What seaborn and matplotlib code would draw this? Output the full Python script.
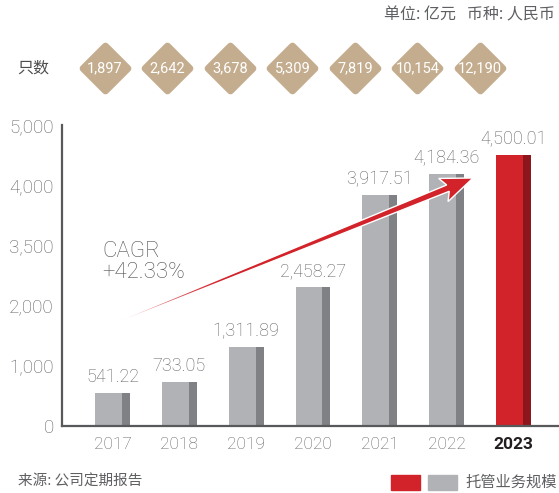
import numpy as np
import pandas as pd
import matplotlib
matplotlib.use("Agg")
import matplotlib.pyplot as plt
import seaborn as sns
from matplotlib.patches import Polygon, Rectangle
from matplotlib.scale import FuncScale

# ---------------- data ----------------
years = ["2017", "2018", "2019", "2020", "2021", "2022", "2023"]
custody_scale = [541.22, 733.05, 1311.89, 2458.27, 3917.51, 4184.36, 4500.01]
fund_counts = [1897, 2642, 3678, 5309, 7819, 10154, 12190]
y_ticks = [0, 1000, 2000, 3500, 4000, 5000]
cagr_text = "CAGR\n+42.33%"
unit_text = "单位: 亿元   币种: 人民币"
count_label = "只数"
source_text = "来源: 公司定期报告"
legend_text = "托管业务规模"

# ---------------- style ----------------
sns.set_theme(style="white")
plt.rcParams["font.family"] = ["Roboto", "Noto Sans CJK SC", "DejaVu Sans"]
plt.rcParams["font.weight"] = "light"
CJK = ["Noto Sans CJK SC", "DejaVu Sans"]

GRAY_TXT = "#5f6063"
LIGHT = "#b1b2b6"
DARK = "#808185"
RED = "#d2232a"
RED_DARK = "#8c161c"
TAN = "#c4ad8e"

W, H = 559, 493
fig = plt.figure(figsize=(W / 100, H / 100), dpi=100)


def fx(px):
    return px / W


def fy(py):
    return 1 - py / H


# ---------------- main bar axes ----------------
ax = fig.add_axes([fx(62), fy(426), fx(559) - fx(62), fy(125) - fy(426)])

df = pd.DataFrame({"year": years, "value": custody_scale})
dark_cols = [DARK] * (len(years) - 1) + [RED_DARK]
light_cols = [LIGHT] * (len(years) - 1) + [RED]

sns.barplot(data=df, x="year", y="value", hue="year", palette=dark_cols,
            width=0.52, saturation=1, legend=False, ax=ax, linewidth=0)
pos = np.arange(len(years))
ax.bar(pos - 0.26, custody_scale, width=0.52 * 27 / 35, align="edge",
       color=light_cols, linewidth=0, zorder=3)

fwd = lambda v: np.interp(v, y_ticks, np.arange(len(y_ticks)))
inv = lambda u: np.interp(u, np.arange(len(y_ticks)), y_ticks)
ax.set_yscale(FuncScale(ax.yaxis, (fwd, inv)))
ax.set_ylim(0, 5000)
ax.set_xlim(-0.756, 6.68)
ax.set_yticks(y_ticks)
ax.set_yticklabels([f"{t:,}" for t in y_ticks])
ax.set_xticks(pos)
ax.set_xticklabels(years)
ax.set_xlabel("")
ax.set_ylabel("")
ax.tick_params(axis="y", length=0, pad=6, labelsize=13.5, labelcolor=GRAY_TXT)
ax.tick_params(axis="x", length=0, pad=8, labelsize=12.5, labelcolor=GRAY_TXT)
last = ax.get_xticklabels()[-1]
last.set_fontweight("bold")
last.set_color("#231f20")

for s in ["top", "right"]:
    ax.spines[s].set_visible(False)
for s in ["left", "bottom"]:
    ax.spines[s].set_color("#58595b")
    ax.spines[s].set_linewidth(1.6)
ax.spines["left"].set_zorder(5)
ax.spines["bottom"].set_zorder(5)

for i, v in enumerate(custody_scale):
    ax.annotate(f"{v:,.2f}", (i, v), xytext=(0, 5), textcoords="offset points",
                ha="center", va="bottom", fontsize=13, color=GRAY_TXT)

# ---------------- diamonds (fund counts) ----------------
axd = fig.add_axes([0, fy(100), 1, fy(36) - fy(100)])
axd.set_axis_off()
axd.set_xlim(-1.68, 7.264)
axd.set_ylim(-1, 1)
dpos = np.arange(len(fund_counts))
sc = axd.scatter(dpos, np.zeros(len(dpos)), marker="D", s=520, color=TAN,
                 edgecolors=TAN, linewidths=5)
sc.set_joinstyle("round")
for i, c in enumerate(fund_counts):
    axd.text(i, 0, f"{c:,}", ha="center", va="center", color="white",
             fontsize=10.5, fontweight="normal")

# ---------------- texts ----------------
fig.text(fx(555), fy(15), unit_text, ha="right", va="center", fontsize=11.5,
         color=GRAY_TXT, family=CJK)
fig.text(fx(17), fy(68), count_label, ha="left", va="center", fontsize=11.5,
         color="#4d4d4f", family=CJK)
fig.text(fx(18), fy(482), source_text, ha="left", va="center", fontsize=10.5,
         color=GRAY_TXT, family=CJK)
fig.text(fx(102), fy(262), cagr_text, ha="left", va="center", fontsize=16,
         color="#4d4d4f", linespacing=0.95)

# legend
fig.patches.append(Rectangle((fx(391), fy(490)), fx(29), fy(475) - fy(490),
                             transform=fig.transFigure, color=RED, figure=fig))
fig.patches.append(Rectangle((fx(428), fy(490)), fx(29), fy(475) - fy(490),
                             transform=fig.transFigure, color=LIGHT, figure=fig))
fig.text(fx(465), fy(482), legend_text, ha="left", va="center", fontsize=11,
         color=GRAY_TXT, family=CJK)

# ---------------- CAGR arrow (pixel overlay) ----------------
axo = fig.add_axes([0, 0, 1, 1])
axo.set_axis_off()
axo.set_xlim(0, W)
axo.set_ylim(H, 0)
S = np.array([115.0, 323.0])
T = np.array([473.0, 178.0])
L = np.linalg.norm(T - S)
u = (T - S) / L
n = np.array([-u[1], u[0]])
B = T - 27 * u
pts = [S - 0.6 * n, B - 3.4 * n, B - 5 * u - 12.5 * n, T,
       B - 5 * u + 12.5 * n, B + 3.4 * n, S + 0.6 * n]
poly = Polygon(pts, closed=True, facecolor="none", edgecolor="none")
axo.add_patch(poly)
yy, xx = np.mgrid[0:H, 0:W] + 0.5
t = ((xx - S[0]) * u[0] + (yy - S[1]) * u[1]) / L
alpha = 0.08 + 0.92 * np.clip(t / 0.3, 0, 1) ** 0.6
img = np.zeros((H, W, 4))
img[..., 0] = 0xd2 / 255
img[..., 1] = 0x23 / 255
img[..., 2] = 0x2a / 255
img[..., 3] = alpha
im = axo.imshow(img, extent=(0, W, H, 0), interpolation="bilinear",
                zorder=2)
im.set_clip_path(poly)
outline = Polygon(pts, closed=True, facecolor="none", edgecolor="white",
                  linewidth=1.0, zorder=3)
axo.add_patch(outline)
axo.set_xlim(0, W)
axo.set_ylim(H, 0)

fig.savefig("out.png", dpi=100)
